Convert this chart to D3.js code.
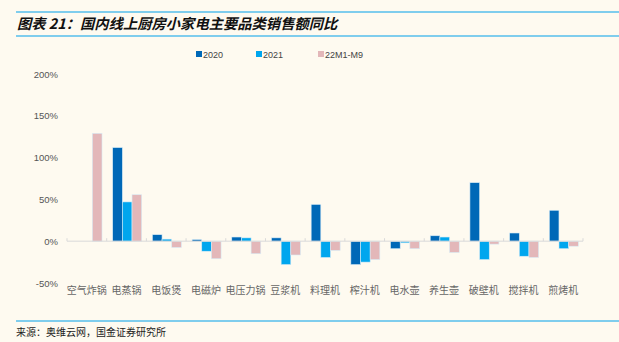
<!DOCTYPE html>
<html><head><meta charset="utf-8">
<script src="https://cdn.jsdelivr.net/npm/d3@7"></script>
<style>
body{margin:0;background:#FEFAF0;}
svg{display:block;}
</style></head><body>
<svg id="c" width="619" height="342"></svg>
<script>
const categories = ["空气炸锅","电蒸锅","电饭煲","电磁炉","电压力锅","豆浆机","料理机","榨汁机","电水壶","养生壶","破壁机","搅拌机","煎烤机"];
const seriesNames = ["2020","2021","22M1-M9"];
const s2020 = [null,112,7.8,2,5,4,44,-28,-9,6.5,70,9.8,37];
const s2021 = [null,47,2.5,-12,4,-28,-19.5,-25,-2,5,-22,-18,-9];
const s22 = [129,55.6,-7.5,-21,-15,-16.5,-11,-22,-9,-13.5,-3.5,-19.5,-6];
const yTicks = [-50,0,50,100,150,200];
const colors = ["#0068B7","#00A6EE","#E3B7B9"];
const seriesVals = [s2020,s2021,s22];

const svg = d3.select("#c");
svg.append("rect").attr("width",619).attr("height",342).attr("fill","#FEFAF0");

// header lines
svg.append("line").attr("x1",16).attr("x2",619).attr("y1",12).attr("y2",12).attr("stroke","#00A0E9").attr("stroke-width",1.2);
svg.append("line").attr("x1",16).attr("x2",619).attr("y1",36).attr("y2",36).attr("stroke","#00A0E9").attr("stroke-width",1.2);
svg.append("text").attr("x",17).attr("y",29).text("图表 21：国内线上厨房小家电主要品类销售额同比")
  .attr("font-family","Noto Sans CJK SC").attr("font-size",14.3).attr("font-weight","bold").attr("font-style","italic")
  .attr("fill","#111");

// footer
svg.append("line").attr("x1",16).attr("x2",619).attr("y1",321).attr("y2",321).attr("stroke","#00A0E9").attr("stroke-width",1.2);
svg.append("text").attr("x",16).attr("y",336).text("来源：奥维云网，国金证券研究所")
  .attr("font-family","Noto Sans CJK SC").attr("font-size",10).attr("fill","#222");

const x = d3.scaleBand().domain(categories).range([67,583]);
const y = d3.scaleLinear().domain([-50,200]).range([283,74]);

// y axis labels
const yAxis = d3.axisLeft(y).tickValues(yTicks).tickFormat(d=>d+"%").tickSize(0).tickPadding(0);
const ya = svg.append("g").attr("transform","translate(58,0)").call(yAxis);
ya.select(".domain").remove();
ya.selectAll("text").attr("font-family","Liberation Sans, Arial").attr("font-size",9.5).attr("fill","#555");

// bars
const inner = d3.scaleBand().domain(seriesNames).range([6,35]).padding(0);
seriesNames.forEach((s,i)=>{
  const data = categories.map((c,j)=>({c,v:seriesVals[i][j]})).filter(d=>d.v!==null);
  svg.append("g").selectAll("rect").data(data).join("rect")
    .attr("x",d=>x(d.c)+inner(s))
    .attr("width",inner.bandwidth())
    .attr("y",d=>Math.min(y(d.v),y(0)))
    .attr("height",d=>Math.abs(y(d.v)-y(0)))
    .attr("fill",colors[i])
    .attr("stroke","#D8ECF6").attr("stroke-width",0.6);
});

// x axis
const xAxis = d3.axisBottom(x).tickSize(0).tickPadding(0);
svg.append("line").attr("x1",67).attr("x2",583).attr("y1",y(0)).attr("y2",y(0)).attr("stroke","#D9D9D9").attr("stroke-width",1);
svg.append("g").selectAll("line").data(categories.concat(["end"])).join("line")
  .attr("x1",(d,i)=>67+i*x.step()).attr("x2",(d,i)=>67+i*x.step())
  .attr("y1",y(0)).attr("y2",y(0)-3).attr("stroke","#D9D9D9");
const xa = svg.append("g").attr("transform","translate(0,290)").call(xAxis);
xa.select(".domain").remove();
xa.selectAll("text").attr("font-family","Noto Sans CJK SC").attr("font-size",10).attr("fill","#666").attr("dy","0.35em");

// legend
const lx = [196,256,318];
seriesNames.forEach((s,i)=>{
  svg.append("rect").attr("x",lx[i]).attr("y",51).attr("width",6).attr("height",6).attr("fill",colors[i]);
  svg.append("text").attr("x",lx[i]+7).attr("y",57.5).text(s)
    .attr("font-family","Liberation Sans, Arial").attr("font-size",9).attr("fill","#444");
});
</script>
</body></html>
